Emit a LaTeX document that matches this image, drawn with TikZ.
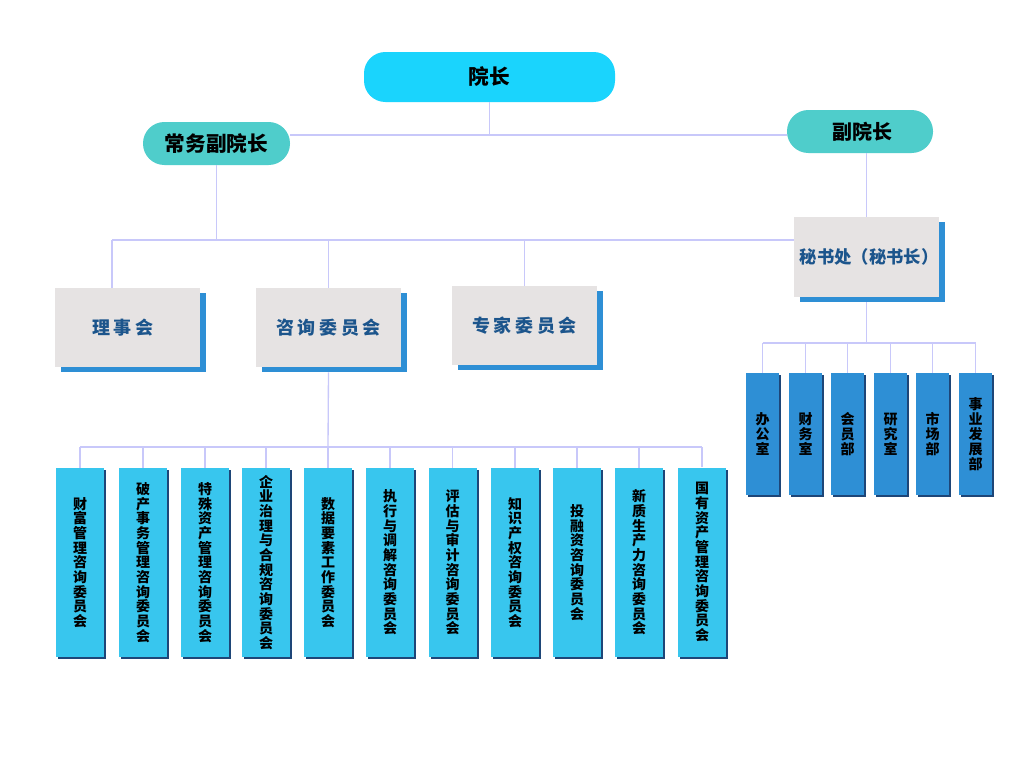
\documentclass[tikz,border=0pt]{standalone}
\usepackage{fontspec}
\setmainfont{Noto Sans CJK SC}
\newfontfamily\cjkls{Noto Sans CJK SC}[LetterSpace=20]
\usetikzlibrary{shadows}
\definecolor{cyanT}{RGB}{26,212,253}
\definecolor{tealT}{RGB}{79,205,203}
\definecolor{greyB}{RGB}{230,227,227}
\definecolor{shadowB}{RGB}{46,143,213}
\definecolor{comB}{RGB}{56,198,238}
\definecolor{deptB}{RGB}{46,143,213}
\definecolor{navyS}{RGB}{30,70,120}
\definecolor{linec}{RGB}{200,200,250}
\definecolor{txtB}{RGB}{28,85,140}
\begin{document}
\begin{tikzpicture}[x=0.75pt,y=-0.75pt,
  conn/.style={draw=linec, line width=1pt},
  pill/.style={rounded corners=16pt, inner sep=0pt, text=black, font=\bfseries\fontsize{15.5}{15.5}\selectfont},
  greybox/.style={fill=greyB, inner sep=0pt, minimum width=108.75pt, minimum height=59.25pt,
     text=txtB, general shadow={fill=shadowB, shadow xshift=4.5pt, shadow yshift=-3.75pt}},
  combox/.style={fill=comB, inner sep=0pt, minimum width=36pt, minimum height=141.75pt, align=center,
     text=black, font=\bfseries\fontsize{10.5}{11}\selectfont,
     general shadow={fill=navyS, shadow xshift=1.5pt, shadow yshift=-1.5pt}},
  deptbox/.style={fill=deptB, inner sep=0pt, minimum width=24.75pt, minimum height=91.5pt, align=center,
     text=black, font=\bfseries\fontsize{10.5}{11.25}\selectfont,
     general shadow={fill=navyS, shadow xshift=1.5pt, shadow yshift=-1.5pt}}
]
\useasboundingbox (0,0) rectangle (1024,768);
\fill[white] (0,0) rectangle (1024,768);

% top level
\node[pill, fill=cyanT, minimum width=188.25pt, minimum height=37.5pt] (yz) at (489.5,77) {院长};
\node[pill, fill=tealT, minimum width=110.25pt, minimum height=32.25pt] (cw) at (216.5,143.5) {常务副院长};
\node[pill, fill=tealT, minimum width=109.5pt, minimum height=32.25pt, font=\bfseries\fontsize{15}{15}\selectfont] (fy) at (860,131.5) {\hspace*{4pt}副院长};

% grey boxes
\node[greybox, font=\cjkls\bfseries\fontsize{13.5}{13.5}\selectfont] (ls) at (127.5,327.5) {理事会\hspace*{7pt}};
\node[greybox, font=\cjkls\bfseries\fontsize{13.5}{13.5}\selectfont] (zx) at (328.5,327.5) {咨询委员会};
\node[greybox, font=\cjkls\bfseries\fontsize{13.5}{13.5}\selectfont] (zj) at (524.5,325.5) {专家委员会};
\node[greybox, minimum height=60pt, font=\bfseries\fontsize{13}{13}\selectfont] (ms) at (866.5,257) {\hspace*{4pt}秘书处（秘书长）};

% committees
\node[combox] (c1) at (80,562.5) {财\\富\\管\\理\\咨\\询\\委\\员\\会};
\node[combox] (c2) at (143,562.5) {破\\产\\事\\务\\管\\理\\咨\\询\\委\\员\\会};
\node[combox] (c3) at (205,562.5) {特\\殊\\资\\产\\管\\理\\咨\\询\\委\\员\\会};
\node[combox] (c4) at (266,562.5) {企\\业\\治\\理\\与\\合\\规\\咨\\询\\委\\员\\会};
\node[combox] (c5) at (328,562.5) {数\\据\\要\\素\\工\\作\\委\\员\\会};
\node[combox] (c6) at (390,562.5) {执\\行\\与\\调\\解\\咨\\询\\委\\员\\会};
\node[combox] (c7) at (452.5,562.5) {评\\估\\与\\审\\计\\咨\\询\\委\\员\\会};
\node[combox] (c8) at (515,562.5) {知\\识\\产\\权\\咨\\询\\委\\员\\会};
\node[combox] (c9) at (577,562.5) {投\\融\\资\\咨\\询\\委\\员\\会};
\node[combox] (c10) at (639,562.5) {新\\质\\生\\产\\力\\咨\\询\\委\\员\\会};
\node[combox] (c11) at (702,562) {国\\有\\资\\产\\管\\理\\咨\\询\\委\\员\\会};

% departments
\node[deptbox] (d1) at (762.5,434) {办\\公\\室};
\node[deptbox] (d2) at (805.5,434) {财\\务\\室};
\node[deptbox] (d3) at (847.5,434) {会\\员\\部};
\node[deptbox] (d4) at (890.5,434) {研\\究\\室};
\node[deptbox] (d5) at (932.5,434) {市\\场\\部};
\node[deptbox] (d6) at (975.5,434) {事\\业\\发\\展\\部};

% connectors: top
\coordinate (j1) at (489.5,135);
\draw[conn] (yz.south) -- (j1);
\draw[conn] (cw.east |- j1) -- (fy.west |- j1);
\draw[conn] (ms.north) -- (ms.north |- fy.south);

% second level bus
\coordinate (h2) at (112,240);
\draw[conn] (cw.south) -- (cw.south |- h2);
\draw[conn] (h2) -- (ms.west |- h2);
\draw[conn] (h2) -- (h2 |- ls.north);
\draw[conn] (zx.north) -- (zx.north |- h2);
\draw[conn] (zj.north) -- (zj.north |- h2);

% committees bus
\coordinate (h3) at (328,447);
\draw[conn] ([yshift=-3.75pt]zx.south) -- (h3);
\draw[conn] (c1.north |- h3) -- (c11.north |- h3);
\foreach \c in {c1,c2,c3,c4,c5,c6,c7,c8,c9,c10,c11}
  \draw[conn] (\c.north) -- (\c.north |- h3);

% departments bus
\coordinate (h4) at (866.5,343);
\draw[conn] ([yshift=-3.75pt]ms.south) -- (h4);
\draw[conn] (d1.north |- h4) -- (d6.north |- h4);
\foreach \d in {d1,d2,d3,d4,d5,d6}
  \draw[conn] (\d.north) -- (\d.north |- h4);
\end{tikzpicture}
\end{document}
